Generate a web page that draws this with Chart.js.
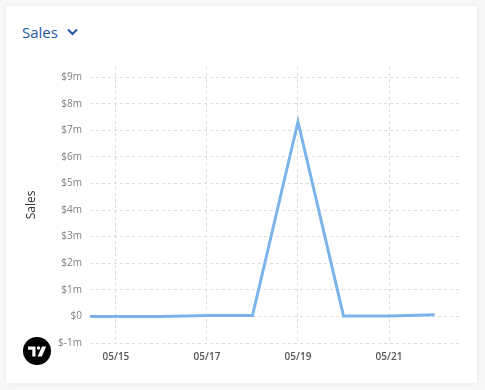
<!DOCTYPE html>
<html>
<head>
<meta charset="utf-8">
<script src="https://cdn.jsdelivr.net/npm/chart.js@4/dist/chart.umd.min.js"></script>
<style>
  html, body { margin: 0; padding: 0; background: #f7f7f7; width: 485px; height: 390px; overflow: hidden; font-family: "Open Sans", sans-serif; }
  #card { position: absolute; left: 6px; top: 6px; width: 471px; height: 377px; background: #fff; box-shadow: 0 0 5px rgba(0,0,0,0.07); }
  #title { position: absolute; left: 22px; top: 22px; font-size: 15px; color: #1d5aa6; display: flex; align-items: center; }
  #title svg { margin-left: 9px; }
  #logo { position: absolute; left: 23px; top: 337px; }
  canvas { position: absolute; left: 0; top: 0; }
</style>
</head>
<body>
<div id="card"></div>
<div id="title">Sales<svg width="11" height="8" viewBox="0 0 11 8"><path d="M1 1.5 L5.5 6 L10 1.5" fill="none" stroke="#1d5aa6" stroke-width="2"/></svg></div>
<canvas id="c" width="485" height="390"></canvas>
<svg id="logo" width="28" height="28" viewBox="0 0 28 28">
  <circle cx="14" cy="14" r="14" fill="#000"/>
  <path d="M5 9.5h7.5v10h-3.2v-6.8H5z" fill="#fff"/>
  <circle cx="15.5" cy="11" r="1.7" fill="#fff"/>
  <path d="M19 9.5h4.2l-4.4 10h-4.2z" fill="#fff"/>
</svg>
<script>
const dates = ['05/14','05/15','05/16','05/17','05/18','05/19','05/20','05/21','05/22'];
const sales = [0, 0, 0, 30000, 30000, 7320000, 20000, 20000, 60000];
const xTickLabels = ['05/15','05/17','05/19','05/21'];
const yTickValues = [-1e6, 0, 1e6, 2e6, 3e6, 4e6, 5e6, 6e6, 7e6, 8e6, 9e6];

const dayOf = s => parseInt(s.split('/')[1], 10);
const points = dates.map((d, i) => ({ x: dayOf(d), y: sales[i] }));

new Chart(document.getElementById('c'), {
  type: 'line',
  data: {
    datasets: [{
      label: 'Sales',
      data: points,
      borderColor: '#7ab4ea',
      borderWidth: 3,
      pointRadius: 0,
      tension: 0,
      fill: false,
      clip: 0
    }]
  },
  options: {
    responsive: false,
    animation: false,
    layout: { padding: { top: 67, right: 25, bottom: 0, left: 0 } },
    plugins: { legend: { display: false }, tooltip: { enabled: false } },
    scales: {
      x: {
        type: 'linear',
        min: 14.43,
        max: 22.56,
        afterBuildTicks: s => { s.ticks = xTickLabels.map(l => ({ value: dayOf(l) })); },
        afterFit: s => { s.height = 47; },
        border: { display: false, dash: [3,3] },
        grid: { color: '#dcdcdc', drawTicks: false },
        ticks: {
          padding: 8,
          color: '#555',
          font: { family: 'Open Sans', size: 10, weight: '600' },
          callback: v => { const d = String(v).padStart(2, '0'); return '05/' + d; },
          maxRotation: 0
        }
      },
      y: {
        min: -1e6,
        max: 9.38e6,
        afterBuildTicks: s => { s.ticks = yTickValues.map(v => ({ value: v })); },
        afterFit: s => { s.width = 90; },
        border: { display: false, dash: [3,3] },
        grid: { color: '#dcdcdc', drawTicks: false },
        ticks: {
          padding: 8,
          color: '#808080',
          font: { family: 'Open Sans', size: 10 },
          callback: v => v === 0 ? '$0' : '$' + (v / 1e6) + 'm'
        },
        title: {
          display: true,
          text: 'Sales',
          color: '#333',
          font: { family: 'Open Sans', size: 12 },
          padding: { top: 24, bottom: 0 }
        }
      }
    }
  }
});
</script>
</body>
</html>
